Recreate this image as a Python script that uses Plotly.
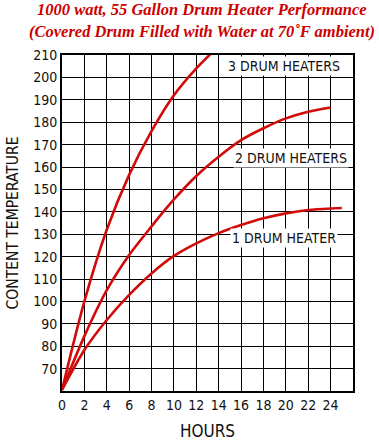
import plotly.graph_objects as go

# Data
hours_3 = [0, 2, 4, 6, 8, 10, 12, 14]
temp_3 = [60.5, 100, 132, 156.5, 176, 192, 204, 214]

hours_2 = [0, 2, 4, 6, 8, 10, 12, 14, 16, 18, 20, 22, 24]
temp_2 = [60.5, 84.5, 105, 120.7, 133.5, 145.5, 156, 164.6, 172, 177.3, 181.7, 184.7, 186.6]

hours_1 = [0, 2, 4, 6, 8, 10, 12, 14, 16, 18, 20, 22, 24, 25]
temp_1 = [60.5, 78.3, 91.7, 102.9, 112.5, 120.3, 125.9, 130.5, 134.1, 137.1, 139.3, 140.8, 141.5, 141.7]

x_ticks = list(range(0, 26, 2))
y_ticks = list(range(70, 211, 10))

series_labels = ["3 DRUM HEATERS", "2 DRUM HEATERS", "1 DRUM HEATER"]
label_pos = [(19.8, 205), (20.5, 164.1), (19.8, 128.2)]

title_lines = ["1000 watt, 55 Gallon Drum Heater Performance",
               "(Covered Drum Filled with Water at 70˚F ambient)"]

RED = "#D10A0A"
NARROW = "Liberation Sans Narrow, Arial Narrow, DejaVu Sans Condensed, sans-serif"

fig = go.Figure()
for xs, ys, name in [(hours_3, temp_3, series_labels[0]),
                     (hours_2, temp_2, series_labels[1]),
                     (hours_1, temp_1, series_labels[2])]:
    fig.add_trace(go.Scatter(x=xs, y=ys, mode="lines", name=name,
                             line=dict(color=RED, width=2.6, shape="spline", smoothing=0.8),
                             showlegend=False, hoverinfo="skip"))

for text, (lx, ly) in zip(series_labels, label_pos):
    fig.add_annotation(x=lx, y=ly, text=text, showarrow=False,
                       xanchor="center", yanchor="middle",
                       bgcolor="white", borderpad=1,
                       font=dict(family=NARROW, size=14, color="#111"))

for line, py in zip(title_lines, [1.134, 1.07]):
    fig.add_annotation(x=0.481, y=py, xref="paper", yref="paper", text="<b><i>" + line + "</i></b>",
                       showarrow=False, xanchor="center", yanchor="middle",
                       font=dict(family="Liberation Serif, Times New Roman, serif", size=16.5, color="#CC0000"))

fig.update_layout(
    template="none",
    width=379, height=441,
    margin=dict(l=62, r=26, t=55, b=50, pad=0),
    paper_bgcolor="white", plot_bgcolor="white",
    xaxis=dict(
        range=[0, 26], tickvals=x_ticks, ticktext=[str(v) for v in x_ticks],
        showgrid=True, gridcolor="black", gridwidth=1.4,
        zeroline=False, showline=True, linecolor="black", linewidth=1.6, mirror=True,
        ticks="", tickfont=dict(family=NARROW, size=14, color="#111"),
        title=dict(text="HOURS", font=dict(family=NARROW, size=17, color="#111"), standoff=14),
        automargin=False, fixedrange=True,
    ),
    yaxis=dict(
        range=[60, 210], tickvals=y_ticks, ticktext=[str(v) for v in y_ticks],
        showgrid=True, gridcolor="black", gridwidth=1.4,
        zeroline=False, showline=True, linecolor="black", linewidth=1.6, mirror=True,
        ticks="", tickfont=dict(family=NARROW, size=14, color="#111"),
        title=dict(text="CONTENT TEMPERATURE", font=dict(family=NARROW, size=15.5, color="#111"), standoff=11),
        automargin=False, fixedrange=True,
    ),
)

fig.write_html("out.html", config={"displayModeBar": False},
               post_script="document.body.style.margin='0';document.body.style.overflow='hidden';")
